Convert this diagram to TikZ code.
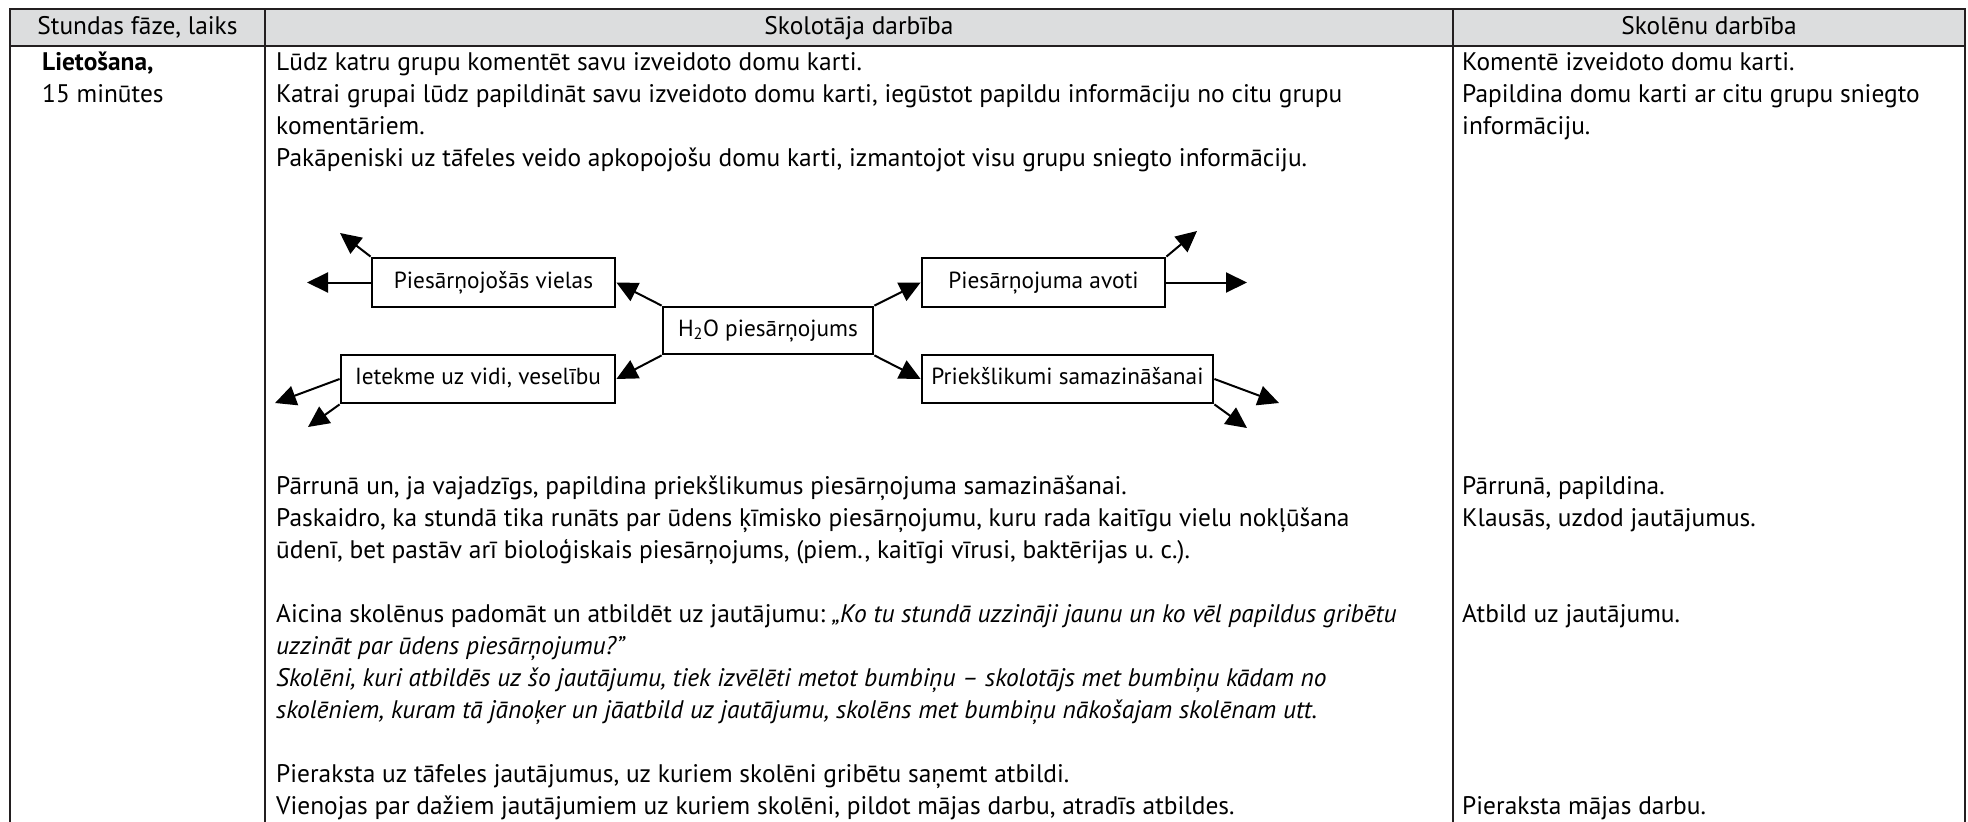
\documentclass[tikz,border=0pt]{standalone}
\usepackage{fontspec}
\setmainfont{PT Sans}
\usetikzlibrary{arrows.meta}
\definecolor{hdrgray}{HTML}{DCDDDE}
\definecolor{rulecol}{HTML}{231F20}
\frenchspacing
\begin{document}
\begin{tikzpicture}[x=1pt,y=-1pt,
  font=\fontsize{25.4}{30}\selectfont,
  txt/.style={anchor=west, inner sep=0pt, text height=17pt, text depth=5pt},
  hdrtxt/.style={anchor=center, inner sep=0pt, text height=17pt, text depth=5pt},
  rulethick/.style={draw=rulecol, line width=2pt},
  rulethin/.style={draw=rulecol, line width=1.3pt},
  mapbox/.style={draw=black, line width=2.8pt, inner sep=0pt, text height=16pt, text depth=5pt, anchor=center, font=\fontsize{23.3}{28}\selectfont},
  maparrow/.style={draw=black, line width=2pt, -{Triangle[length=21pt,width=20pt]}}
]
\useasboundingbox (0,0) rectangle (1968,822);
% table
\fill[hdrgray] (10,9) rectangle (1965,46);
\draw[rulethin] (10,9) -- (10,822);
\draw[rulethin] (265,9) -- (265,822);
\draw[rulethin] (1453,9) -- (1453,822);
\draw[rulethin] (1965,9) -- (1965,822);
\draw[rulethick] (9,9) -- (1966,9);
\draw[rulethick] (9,46) -- (1966,46);
% header
\node[hdrtxt] (h1) at (137.5,28) {Stundas fāze, laiks};
\node[hdrtxt] (h2) at (859,28) {Skolotāja darbība};
\node[hdrtxt] (h3) at (1709,28) {Skolēnu darbība};
% column 1
\node[txt] (a1) at (42,64) {\textbf{Lietošana,}};
\node[txt] (a2) at (42,96) {15 minūtes};
% column 2 top
\node[txt] (b1) at (276,64) {Lūdz katru grupu komentēt savu izveidoto domu karti.};
\node[txt] (b2) at (276,96) {Katrai grupai lūdz papildināt savu izveidoto domu karti, iegūstot papildu informāciju no citu grupu};
\node[txt] (b3) at (276,128) {komentāriem.};
\node[txt] (b4) at (276,160) {Pakāpeniski uz tāfeles veido apkopojošu domu karti, izmantojot visu grupu sniegto informāciju.};
% mind map
\node[mapbox, minimum width=210pt, minimum height=47pt] (h2o) at (768,330.5) {H\textsubscript{2}O piesārņojums};
\node[mapbox, minimum width=243pt, minimum height=49pt] (viel) at (493.5,282.5) {Piesārņojošās vielas};
\node[mapbox, minimum width=243pt, minimum height=49pt] (avot) at (1043.5,282.5) {Piesārņojuma avoti};
\node[mapbox, minimum width=274pt, minimum height=48pt] (ietek) at (478,379) {Ietekme uz vidi, veselību};
\node[mapbox, minimum width=291pt, minimum height=48pt] (priek) at (1067.5,379) {Priekšlikumi samazināšanai};
\draw[maparrow] (h2o.north west) -- (viel.east);
\draw[maparrow] (h2o.south west) -- (ietek.east);
\draw[maparrow] (h2o.north east) -- (avot.west);
\draw[maparrow] (h2o.south east) -- (priek.west);
\coordinate (v1) at (340,233);
\coordinate (v2) at (307,282.5);
\coordinate (i1) at (275,403);
\coordinate (i2) at (308,427);
\coordinate (p1) at (1197,231);
\coordinate (p2) at (1247,282.5);
\coordinate (k1) at (1279,403);
\coordinate (k2) at (1247,428);
\draw[maparrow] (viel.north west) -- (v1);
\draw[maparrow] (viel.west) -- (v2);
\draw[maparrow] (ietek.west) -- (i1);
\draw[maparrow] (ietek.south west) -- (i2);
\draw[maparrow] (avot.north east) -- (p1);
\draw[maparrow] (avot.east) -- (p2);
\draw[maparrow] (priek.east) -- (k1);
\draw[maparrow] (priek.south east) -- (k2);
% column 2 bottom
\node[txt] (b5) at (276,488) {Pārrunā un, ja vajadzīgs, papildina priekšlikumus piesārņojuma samazināšanai.};
\node[txt] (b6) at (276,520) {Paskaidro, ka stundā tika runāts par ūdens ķīmisko piesārņojumu, kuru rada kaitīgu vielu nokļūšana};
\node[txt] (b7) at (276,552) {ūdenī, bet pastāv arī bioloģiskais piesārņojums, (piem., kaitīgi vīrusi, baktērijas u. c.).};
\node[txt] (b8) at (276,616) {Aicina skolēnus padomāt un atbildēt uz jautājumu: \textit{„Ko tu stundā uzzināji jaunu un ko vēl papildus gribētu}};
\node[txt] (b9) at (276,648) {\textit{uzzināt par ūdens piesārņojumu?"}};
\node[txt] (b10) at (276,680) {\textit{Skolēni, kuri atbildēs uz šo jautājumu, tiek izvēlēti metot bumbiņu – skolotājs met bumbiņu kādam no}};
\node[txt] (b11) at (276,712) {\textit{skolēniem, kuram tā jānoķer un jāatbild uz jautājumu, skolēns met bumbiņu nākošajam skolēnam utt.}};
\node[txt] (b12) at (276,776) {Pieraksta uz tāfeles jautājumus, uz kuriem skolēni gribētu saņemt atbildi.};
\node[txt] (b13) at (276,808) {Vienojas par dažiem jautājumiem uz kuriem skolēni, pildot mājas darbu, atradīs atbildes.};
% column 3
\node[txt] (c1) at (1462,64) {Komentē izveidoto domu karti.};
\node[txt] (c2) at (1462,96) {Papildina domu karti ar citu grupu sniegto};
\node[txt] (c3) at (1462,128) {informāciju.};
\node[txt] (c4) at (1462,488) {Pārrunā, papildina.};
\node[txt] (c5) at (1462,520) {Klausās, uzdod jautājumus.};
\node[txt] (c6) at (1462,616) {Atbild uz jautājumu.};
\node[txt] (c7) at (1462,808) {Pieraksta mājas darbu.};
\end{tikzpicture}
\end{document}
